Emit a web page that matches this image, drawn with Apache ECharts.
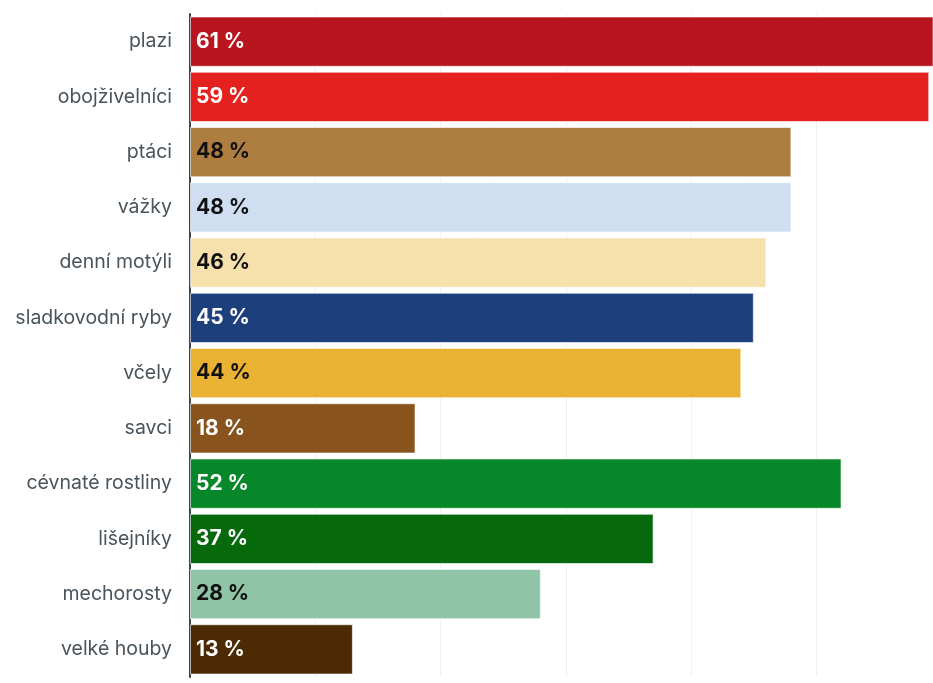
<!DOCTYPE html>
<html>
<head>
<meta charset="utf-8">
<script src="https://cdn.jsdelivr.net/npm/echarts@6/dist/echarts.min.js"></script>
<style>
html,body{margin:0;padding:0;background:#fff;}
#chart{width:933px;height:683px;}
</style>
</head>
<body>
<div id="chart"></div>
<script>
const categories = ["plazi","obojživelníci","ptáci","vážky","denní motýli","sladkovodní ryby","včely","savci","cévnaté rostliny","lišejníky","mechorosty","velké houby"];
const values = [61,59,48,48,46,45,44,18,52,37,28,13];
const barColors = ["#b8151e","#e5211f","#ae7d40","#cfdef0","#f6e0ab","#1d3f7b","#e9b232","#88531c","#068729","#066a0c","#8fc4a6","#4c2a03"];
const labelColors = ["#ffffff","#ffffff","#111111","#111111","#111111","#ffffff","#111111","#ffffff","#ffffff","#ffffff","#111111","#ffffff"];

const chart = echarts.init(document.getElementById('chart'), null, {renderer:'canvas'});
chart.setOption({
  animation:false,
  grid:{left:190, top:14, bottom:6, right:0, containLabel:false},
  xAxis:{
    type:'value', min:0, max:59.3, interval:10,
    axisLabel:{show:false}, axisLine:{show:false}, axisTick:{show:false},
    splitLine:{show:true, lineStyle:{color:'#edf1f4', width:1}}
  },
  yAxis:{
    type:'category', data:categories, inverse:true,
    axisLine:{show:true, lineStyle:{color:'#3a444b', width:2}},
    axisTick:{show:false},
    axisLabel:{margin:18, fontFamily:'Inter', fontSize:19.5, color:'#4a545b'}
  },
  series:[{
    type:'bar',
    barCategoryGap:'9%',
    data: values.map((v,i)=>({
      value:v,
      itemStyle:{color:barColors[i], borderColor:'rgba(255,255,255,0.6)', borderWidth:1},
      label:{color:labelColors[i]}
    })),
    label:{
      show:true, position:'insideLeft', distance:6,
      formatter:p=>p.value+' %',
      fontFamily:'Inter', fontWeight:'bold', fontSize:21
    }
  }]
});
</script>
</body>
</html>
